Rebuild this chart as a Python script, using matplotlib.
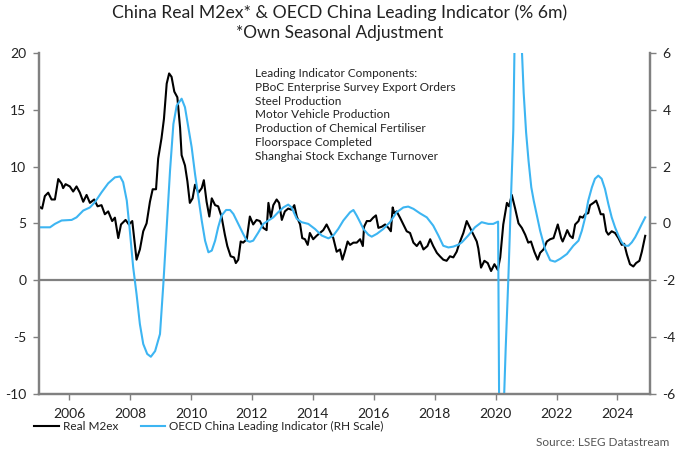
import matplotlib
matplotlib.use("Agg")
import matplotlib.pyplot as plt

plt.rcParams['font.family'] = ['Lato', 'DejaVu Sans']
plt.rcParams['axes.unicode_minus'] = False

# Real M2ex, % 6m (left scale)
m2_dates = [2005.00, 2005.11, 2005.20, 2005.31, 2005.42, 2005.53, 2005.64, 2005.75, 2005.80, 2005.88,
            2006.02, 2006.13, 2006.24, 2006.35, 2006.46, 2006.57, 2006.68, 2006.82, 2006.93,
            2007.06, 2007.17, 2007.28, 2007.41, 2007.50, 2007.61, 2007.70, 2007.85, 2007.96,
            2008.07, 2008.21, 2008.32, 2008.43, 2008.54, 2008.65, 2008.74, 2008.85, 2008.92,
            2009.03, 2009.11, 2009.20, 2009.28, 2009.36, 2009.45, 2009.55, 2009.64, 2009.69, 2009.80, 2009.88, 2009.96,
            2010.05, 2010.13, 2010.24, 2010.35, 2010.42, 2010.51, 2010.60, 2010.68, 2010.79, 2010.89,
            2011.00, 2011.11, 2011.19, 2011.30, 2011.41, 2011.47, 2011.55, 2011.63, 2011.71, 2011.83, 2011.93,
            2012.04, 2012.15, 2012.26, 2012.37, 2012.48, 2012.54, 2012.62, 2012.70, 2012.81, 2012.89, 2012.98,
            2013.08, 2013.19, 2013.30, 2013.39, 2013.47, 2013.58, 2013.65, 2013.74, 2013.83, 2013.90,
            2014.01, 2014.12, 2014.23, 2014.34, 2014.45, 2014.56, 2014.67, 2014.78, 2014.89, 2014.97,
            2015.05, 2015.14, 2015.22, 2015.33, 2015.44, 2015.55, 2015.64, 2015.68, 2015.77, 2015.88, 2015.98,
            2016.07, 2016.15, 2016.26, 2016.37, 2016.48, 2016.56, 2016.62, 2016.67, 2016.75, 2016.86, 2016.97,
            2017.08, 2017.19, 2017.30, 2017.41, 2017.52, 2017.63, 2017.76, 2017.85, 2017.95,
            2018.07, 2018.17, 2018.28, 2018.39, 2018.50, 2018.61, 2018.72, 2018.78, 2018.86, 2018.94,
            2019.05, 2019.16, 2019.27, 2019.38, 2019.43, 2019.52, 2019.63, 2019.74, 2019.85, 2019.96,
            2020.07, 2020.15, 2020.25, 2020.37, 2020.44, 2020.53, 2020.64, 2020.75, 2020.86, 2020.97,
            2021.07, 2021.16, 2021.27, 2021.38, 2021.46, 2021.57, 2021.68, 2021.79, 2021.90,
            2022.04, 2022.15, 2022.20, 2022.28, 2022.35, 2022.44, 2022.53, 2022.61, 2022.72, 2022.77, 2022.86, 2022.94,
            2023.04, 2023.10, 2023.21, 2023.30, 2023.37, 2023.45, 2023.54, 2023.63, 2023.70, 2023.81, 2023.92,
            2024.03, 2024.14, 2024.22, 2024.31, 2024.41, 2024.52, 2024.61, 2024.72, 2024.80, 2024.91]
m2_vals = [6.5, 6.3, 7.4, 7.7, 7.1, 7.1, 8.9, 8.5, 8.1, 8.45,
           8.25, 7.8, 8.25, 7.7, 6.9, 7.5, 6.8, 7.1, 6.5,
           6.6, 5.8, 6.05, 5.2, 5.5, 3.7, 4.9, 5.3, 4.9,
           5.2, 1.8, 2.7, 4.3, 5.0, 6.9, 8.0, 8.0, 10.7,
           12.5, 14.2, 17.3, 18.2, 17.9, 16.6, 16.1, 13.4, 11.0, 10.1, 8.7, 6.8,
           7.2, 8.4, 7.7, 8.1, 8.8, 6.9, 5.6, 7.2, 6.6, 6.5,
           5.6, 4.0, 3.0, 2.1, 2.0, 1.5, 1.8, 3.4, 3.3, 3.6, 5.6,
           4.9, 5.3, 5.2, 4.6, 4.4, 6.8, 5.5, 6.6, 7.1, 6.8, 5.3,
           6.05, 6.3, 6.2, 6.6, 5.6, 4.9, 3.7, 3.6, 3.1, 4.15,
           3.6, 3.9, 4.15, 4.4, 4.9, 4.3, 3.7, 2.5, 2.7, 1.8,
           2.5, 3.4, 3.1, 3.3, 3.3, 3.6, 3.0, 4.7, 5.2, 5.2, 5.5,
           5.7, 4.6, 4.7, 4.9, 4.6, 4.3, 6.4, 5.9, 6.05, 5.5, 4.9,
           4.3, 4.15, 3.3, 3.0, 3.4, 2.7, 3.0, 3.6, 3.0,
           2.4, 2.1, 1.8, 1.7, 2.1, 2.0, 2.5, 3.0, 3.6, 4.15,
           5.2, 4.6, 4.0, 3.4, 2.8, 1.1, 1.7, 1.5, 0.8, 1.4,
           0.9, 2.0, 4.9, 6.8, 6.5, 7.5, 6.3, 5.0, 4.6, 4.0,
           3.3, 3.4, 2.5, 1.8, 2.4, 2.7, 3.4, 3.6, 3.7,
           4.9, 3.7, 3.4, 3.9, 4.4, 3.9, 3.7, 4.9, 5.2, 5.6, 5.5, 5.8,
           5.9, 6.6, 6.8, 7.0, 6.5, 5.8, 5.8, 4.3, 4.0, 4.3, 4.15,
           3.7, 3.1, 3.2, 2.25, 1.4, 1.2, 1.5, 1.7, 2.5, 3.9]

# OECD China Leading Indicator, % 6m (right scale)
cli_dates = [2005.00, 2005.37, 2005.53, 2005.75, 2006.08, 2006.24, 2006.46, 2006.68, 2006.84,
             2007.06, 2007.28, 2007.50, 2007.67, 2007.77, 2007.89, 2007.99,
             2008.10, 2008.21, 2008.32, 2008.43, 2008.56, 2008.68, 2008.82, 2008.98,
             2009.09, 2009.20, 2009.31, 2009.42, 2009.53, 2009.69, 2009.80, 2009.91,
             2010.02, 2010.13, 2010.24, 2010.35, 2010.46, 2010.57, 2010.68, 2010.79, 2010.89,
             2011.00, 2011.15, 2011.28, 2011.39, 2011.55, 2011.71, 2011.83, 2011.93,
             2012.04, 2012.21, 2012.37, 2012.54, 2012.70, 2012.86, 2013.03, 2013.19, 2013.30, 2013.47, 2013.63, 2013.85,
             2014.07, 2014.29, 2014.51, 2014.67, 2014.83, 2015.00, 2015.22, 2015.33, 2015.44, 2015.55, 2015.66, 2015.82, 2015.93,
             2016.10, 2016.31, 2016.53, 2016.75, 2016.97, 2017.13, 2017.30, 2017.52, 2017.74, 2017.95,
             2018.12, 2018.28, 2018.45, 2018.61, 2018.78, 2018.89, 2019.10, 2019.32, 2019.54, 2019.76, 2019.92,
             2020.08, 2020.17, 2020.25, 2020.33, 2020.42, 2020.50, 2020.58, 2020.67, 2020.75, 2020.83, 2020.92,
             2021.00, 2021.08, 2021.17, 2021.25, 2021.33, 2021.46, 2021.62, 2021.79, 2021.95,
             2022.12, 2022.34, 2022.55, 2022.72, 2022.83, 2022.94, 2023.04, 2023.16, 2023.26, 2023.37, 2023.48, 2023.59,
             2023.70, 2023.81, 2023.92, 2024.03, 2024.14, 2024.25, 2024.36, 2024.47, 2024.58, 2024.69, 2024.80, 2024.91]
cli_vals = [-0.14, -0.14, -0.02, 0.1, 0.12, 0.21, 0.45, 0.56, 0.74,
            1.09, 1.41, 1.62, 1.65, 1.45, 0.8, -0.26,
            -1.55, -2.49, -3.55, -4.25, -4.6, -4.7, -4.5, -3.9,
            -2.14, -0.14, 1.86, 3.5, 4.15, 4.39, 4.09, 3.39,
            2.68, 1.74, 0.92, 0.1, -0.61, -1.02, -0.96, -0.61, -0.14,
            0.27, 0.47, 0.47, 0.33, -0.02, -0.37, -0.61, -0.65,
            -0.61, -0.32, -0.02, 0.1, 0.21, 0.39, 0.56, 0.66, 0.56, 0.16, 0.04, -0.02,
            -0.2, -0.43, -0.53, -0.43, -0.2, 0.1, 0.39, 0.47, 0.27, 0.04, -0.2, -0.4, -0.47,
            -0.37, -0.2, 0.04, 0.39, 0.56, 0.59, 0.51, 0.35, 0.21, -0.08,
            -0.43, -0.79, -0.85, -0.82, -0.75, -0.67, -0.43, -0.14, 0.04, -0.02, -0.02,
            0.06, -16.8, -7.0, -4.4, -1.85, 0.8, 3.3, 10.0, 12.0, 6.9, 4.6,
            3.2, 2.2, 1.27, 0.8, 0.4, -0.26, -0.9, -1.3, -1.35,
            -1.25, -1.08, -0.79, -0.61, -0.26, 0.21, 0.8, 1.27, 1.57, 1.68, 1.57, 1.21,
            0.68, 0.21, -0.14, -0.43, -0.67, -0.79, -0.79, -0.67, -0.49, -0.26, -0.02, 0.21]

components = ["Leading Indicator Components:",
              "PBoC Enterprise Survey Export Orders",
              "Steel Production",
              "Motor Vehicle Production",
              "Production of Chemical Fertiliser",
              "Floorspace Completed",
              "Shanghai Stock Exchange Turnover"]

year_ticks = [2006, 2008, 2010, 2012, 2014, 2016, 2018, 2020, 2022, 2024]
left_ticks = [-10, -5, 0, 5, 10, 15, 20]
right_ticks = [-6, -4, -2, 0, 2, 4, 6]

black = '#000000'
blue = '#3DB5F2'
grey = '#808080'
text_col = '#222222'

fig = plt.figure(figsize=(6.8, 4.53), dpi=100)
ax = fig.add_axes([0.057, 0.131, 0.899, 0.752])
ax2 = ax.twinx()

ax.axhline(0, color=grey, lw=1.6, zorder=1)
line1, = ax.plot(m2_dates, m2_vals, color=black, lw=1.5, zorder=3)
line2, = ax2.plot(cli_dates, cli_vals, color=blue, lw=1.5, zorder=2)

ax.set_xlim(2005.0, 2025.07)
ax.set_ylim(-10, 20)
ax2.set_ylim(-6, 6)
ax.set_xticks(year_ticks)
ax.set_yticks(left_ticks)
ax2.set_yticks(right_ticks)

for a in (ax, ax2):
    a.spines['top'].set_visible(False)
    for side in ('left', 'right', 'bottom'):
        a.spines[side].set_color(grey)
        a.spines[side].set_linewidth(1.6)
    a.tick_params(colors=grey, labelcolor=text_col, labelsize=10, length=4, width=1)
ax.tick_params(axis='x', pad=6)
ax.tick_params(axis='y', pad=5)
ax2.tick_params(axis='y', pad=5)

ax.text(0.353, 0.955, "\n".join(components), transform=ax.transAxes, fontsize=8.5,
        color=text_col, va='top', ha='left', linespacing=1.3)

fig.text(0.5, 0.972, "China Real M2ex* & OECD China Leading Indicator (% 6m)",
         ha='center', va='center', fontsize=12.7, color=text_col)
fig.text(0.5, 0.928, "*Own Seasonal Adjustment", ha='center', va='center',
         fontsize=12.4, color=text_col)

fig.legend([line1, line2], ["Real M2ex", "OECD China Leading Indicator (RH Scale)"],
           loc='center left', bbox_to_anchor=(0.035, 0.058), ncol=2, frameon=False,
           fontsize=8.5, handlelength=2.1, handletextpad=0.3, columnspacing=1.9,
           labelcolor=text_col)

fig.text(0.985, 0.024, "Source: LSEG Datastream", ha='right', va='center',
         fontsize=8.5, color='#555555')

fig.savefig("out.png", dpi=100)
